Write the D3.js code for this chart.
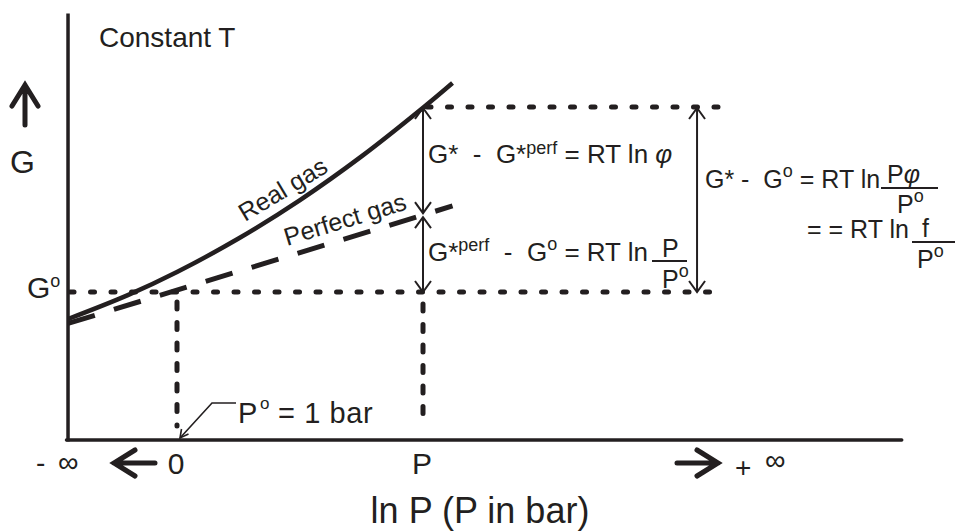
<!DOCTYPE html>
<html>
<head>
<meta charset="utf-8">
<script src="https://cdn.jsdelivr.net/npm/d3@7"></script>
<style>
  body { margin: 0; background: #fff; }
  svg text { font-family: "Liberation Sans", Arial, sans-serif; fill: #231f20; white-space: pre; }
</style>
</head>
<body>
<div id="chart"></div>
<script>
// --- data (x = ln P, with ln P° = 0 and ln P = 1 ; y = G, with G° = 0 and G* = 1) ---
const realLnP = [-0.443, -0.2, 0, 0.25, 0.5, 0.75, 1.0, 1.12];
const realG   = [-0.146, -0.017, 0.108, 0.289, 0.497, 0.733, 0.996, 1.13];
const perfLnP = [-0.443, 1.12];
const perfG   = [-0.17, 0.465];
const xTicks  = ["0", "P"];          // at ln P° and ln P
const xTickAt = [0, 1];
const axisX   = [-0.443, 2.946];     // extent of the ln P axis
const axisY   = [-0.8, 1.505];       // extent of the G axis
const refEnd  = 2.207;               // where the dotted reference lines stop
const bigArrowAt = 2.114;            // ln P of the G* - G° arrow

const width = 956, height = 531;
const ink = "#231f20";

const svg = d3.select("#chart").append("svg")
    .attr("width", width)
    .attr("height", height);

const x = d3.scaleLinear().domain([0, 1]).range([177, 423]);
const y = d3.scaleLinear().domain([0, 1]).range([292, 107]);

// arrow head for the thin double arrows
svg.append("defs").append("marker")
    .attr("id", "head")
    .attr("viewBox", "-12 -9 14 18")
    .attr("refX", 0).attr("refY", 0)
    .attr("markerWidth", 14).attr("markerHeight", 18)
    .attr("markerUnits", "userSpaceOnUse")
    .attr("orient", "auto-start-reverse")
    .append("path")
    .attr("d", "M-11,-8 L0,0 L-11,8")
    .attr("fill", "none")
    .attr("stroke", ink)
    .attr("stroke-width", 2);

// --- dotted reference lines ---
const dotted = (x1, y1, x2, y2, dash) => svg.append("line")
    .attr("x1", x1).attr("y1", y1).attr("x2", x2).attr("y2", y2)
    .attr("stroke", ink).attr("stroke-width", 5)
    .attr("stroke-linecap", "round")
    .attr("stroke-dasharray", dash);

dotted(x(axisX[0]) + 2, y(0), x(refEnd), y(0), "4 16.5");
dotted(x(1) + 4, y(1), x(refEnd), y(1), "4 16.5");
dotted(x(0), y(0) + 10, x(0), y(axisY[0]) - 14, "7 13.5");
dotted(x(1), y(0) + 12, x(1), y(axisY[0]) - 16, "7 13.5");

// --- curves ---
const line = d3.line().x(d => x(d[0])).y(d => y(d[1]));

svg.append("path")
    .datum(d3.zip(perfLnP, perfG))
    .attr("d", line)
    .attr("fill", "none")
    .attr("stroke", ink)
    .attr("stroke-width", 5)
    .attr("stroke-dasharray", "28 20");

svg.append("path")
    .datum(d3.zip(realLnP, realG))
    .attr("d", line.curve(d3.curveCatmullRom))
    .attr("fill", "none")
    .attr("stroke", ink)
    .attr("stroke-width", 4.5);

// --- axes ---
svg.append("line")
    .attr("x1", x(axisX[0])).attr("y1", y(axisY[1]))
    .attr("x2", x(axisX[0])).attr("y2", y(axisY[0]) + 1.5)
    .attr("stroke", ink).attr("stroke-width", 3.5);
svg.append("line")
    .attr("x1", x(axisX[0]) - 1.5).attr("y1", y(axisY[0]))
    .attr("x2", x(axisX[1])).attr("y2", y(axisY[0]))
    .attr("stroke", ink).attr("stroke-width", 3.5)
    .attr("stroke-linecap", "round");

svg.selectAll(".tick")
    .data(xTicks)
    .join("text")
    .attr("class", "tick")
    .attr("x", (d, i) => x(xTickAt[i]) - 1)
    .attr("y", 474)
    .attr("text-anchor", "middle")
    .attr("font-size", 30)
    .text(d => d);

// --- thin double arrows ---
const dbl = (xv, g1, g2, off1, off2) => svg.append("line")
    .attr("x1", x(xv)).attr("y1", y(g1) + off1)
    .attr("x2", x(xv)).attr("y2", y(g2) + off2)
    .attr("stroke", ink).attr("stroke-width", 2)
    .attr("marker-start", "url(#head)")
    .attr("marker-end", "url(#head)");

dbl(1, 1, perfG[1] / perfLnP[1], 1, -2);
dbl(1, perfG[1] / perfLnP[1], 0, 2, 0);
dbl(bigArrowAt, 1, 0, 1, 0);

// --- thick arrows ---
const thick = d => svg.append("path")
    .attr("d", d)
    .attr("fill", "none")
    .attr("stroke", ink)
    .attr("stroke-width", 5)
    .attr("stroke-linecap", "round")
    .attr("stroke-linejoin", "miter");

thick("M25,125 L25,85 M12,106 L25,85 L38,106");
thick("M155,463 L114,463 M135,450 L114,463 L135,476");
thick("M677,463 L718,463 M697,450 L718,463 L697,476");

// --- labels ---
const txt = (xp, yp, size, s) => svg.append("text")
    .attr("x", xp).attr("y", yp)
    .attr("font-size", size)
    .text(s);

txt(99, 47, 28, "Constant T");
txt(10, 173, 32, "G");

const g0 = txt(27, 298, 30, "G");
g0.append("tspan").attr("font-size", 18).attr("dy", -11).text("o");

txt(36, 472, 28, "-");
txt(58, 472, 29, "∞");
txt(735, 477, 28, "+");
txt(765, 470, 29, "∞");

svg.append("text")
    .attr("x", 480).attr("y", 523)
    .attr("text-anchor", "middle")
    .attr("font-size", 36)
    .text("ln P (P in bar)");

// P° = 1 bar with its leader
svg.append("path")
    .attr("d", "M236,403 L212,403 L180,438")
    .attr("fill", "none")
    .attr("stroke", ink)
    .attr("stroke-width", 1.6);
svg.append("path")
    .attr("d", "M181.5,429 L180,438 L188.5,434")
    .attr("fill", "none")
    .attr("stroke", ink)
    .attr("stroke-width", 1.6);
txt(238, 423, 29, "P");
txt(260, 409, 17, "o");
txt(278, 423, 29, "= 1 bar")
    .attr("letter-spacing", 0.6);

// curve names
svg.append("text")
    .attr("transform", "translate(245,222) rotate(-31)")
    .attr("font-size", 25)
    .text("Real gas");
svg.append("text")
    .attr("transform", "translate(287,246) rotate(-17)")
    .attr("font-size", 25)
    .text("Perfect gas");

// G* - G*perf = RT ln φ
const e1 = txt(428, 163, 26, "G*  -  G*");
e1.append("tspan").attr("font-size", 18).attr("dy", -9).text("perf");
e1.append("tspan").attr("dy", 9).text(" = RT ln ");
e1.append("tspan").attr("font-style", "italic").text("φ");

// G*perf - G° = RT ln P/P°
const e2 = txt(428, 261, 26, "G*");
e2.append("tspan").attr("font-size", 18).attr("dy", -10).text("perf");
e2.append("tspan").attr("dy", 10).text("  -  G");
e2.append("tspan").attr("font-size", 18).attr("dy", -11).text("o");
e2.append("tspan").attr("dy", 11).text(" = RT ln");
svg.append("line").attr("x1", 652).attr("x2", 687).attr("y1", 261).attr("y2", 261)
    .attr("stroke", ink).attr("stroke-width", 2);
txt(662, 257, 25, "P");
const d2 = txt(662, 288, 25, "P");
d2.append("tspan").attr("font-size", 18).attr("dy", -11).text("o");

// G* - G° = RT ln Pφ/P°
const e3 = txt(705, 188, 25, "G* -  G");
e3.append("tspan").attr("font-size", 18).attr("dy", -11).text("o");
e3.append("tspan").attr("dy", 11).text(" = RT ln");
svg.append("line").attr("x1", 881).attr("x2", 938).attr("y1", 188).attr("y2", 188)
    .attr("stroke", ink).attr("stroke-width", 2);
const n3 = txt(887, 183, 25, "P");
n3.append("tspan").attr("font-style", "italic").text("φ");
const d3b = txt(897, 213, 25, "P");
d3b.append("tspan").attr("font-size", 18).attr("dy", -11).text("o");

// = = RT ln f/P°
txt(807, 238, 25, "= = RT ln");
svg.append("line").attr("x1", 912).attr("x2", 955).attr("y1", 242).attr("y2", 242)
    .attr("stroke", ink).attr("stroke-width", 2);
txt(922, 237, 25, "f");
const d4 = txt(917, 268, 25, "P");
d4.append("tspan").attr("font-size", 18).attr("dy", -11).text("o");
</script>
</body>
</html>
